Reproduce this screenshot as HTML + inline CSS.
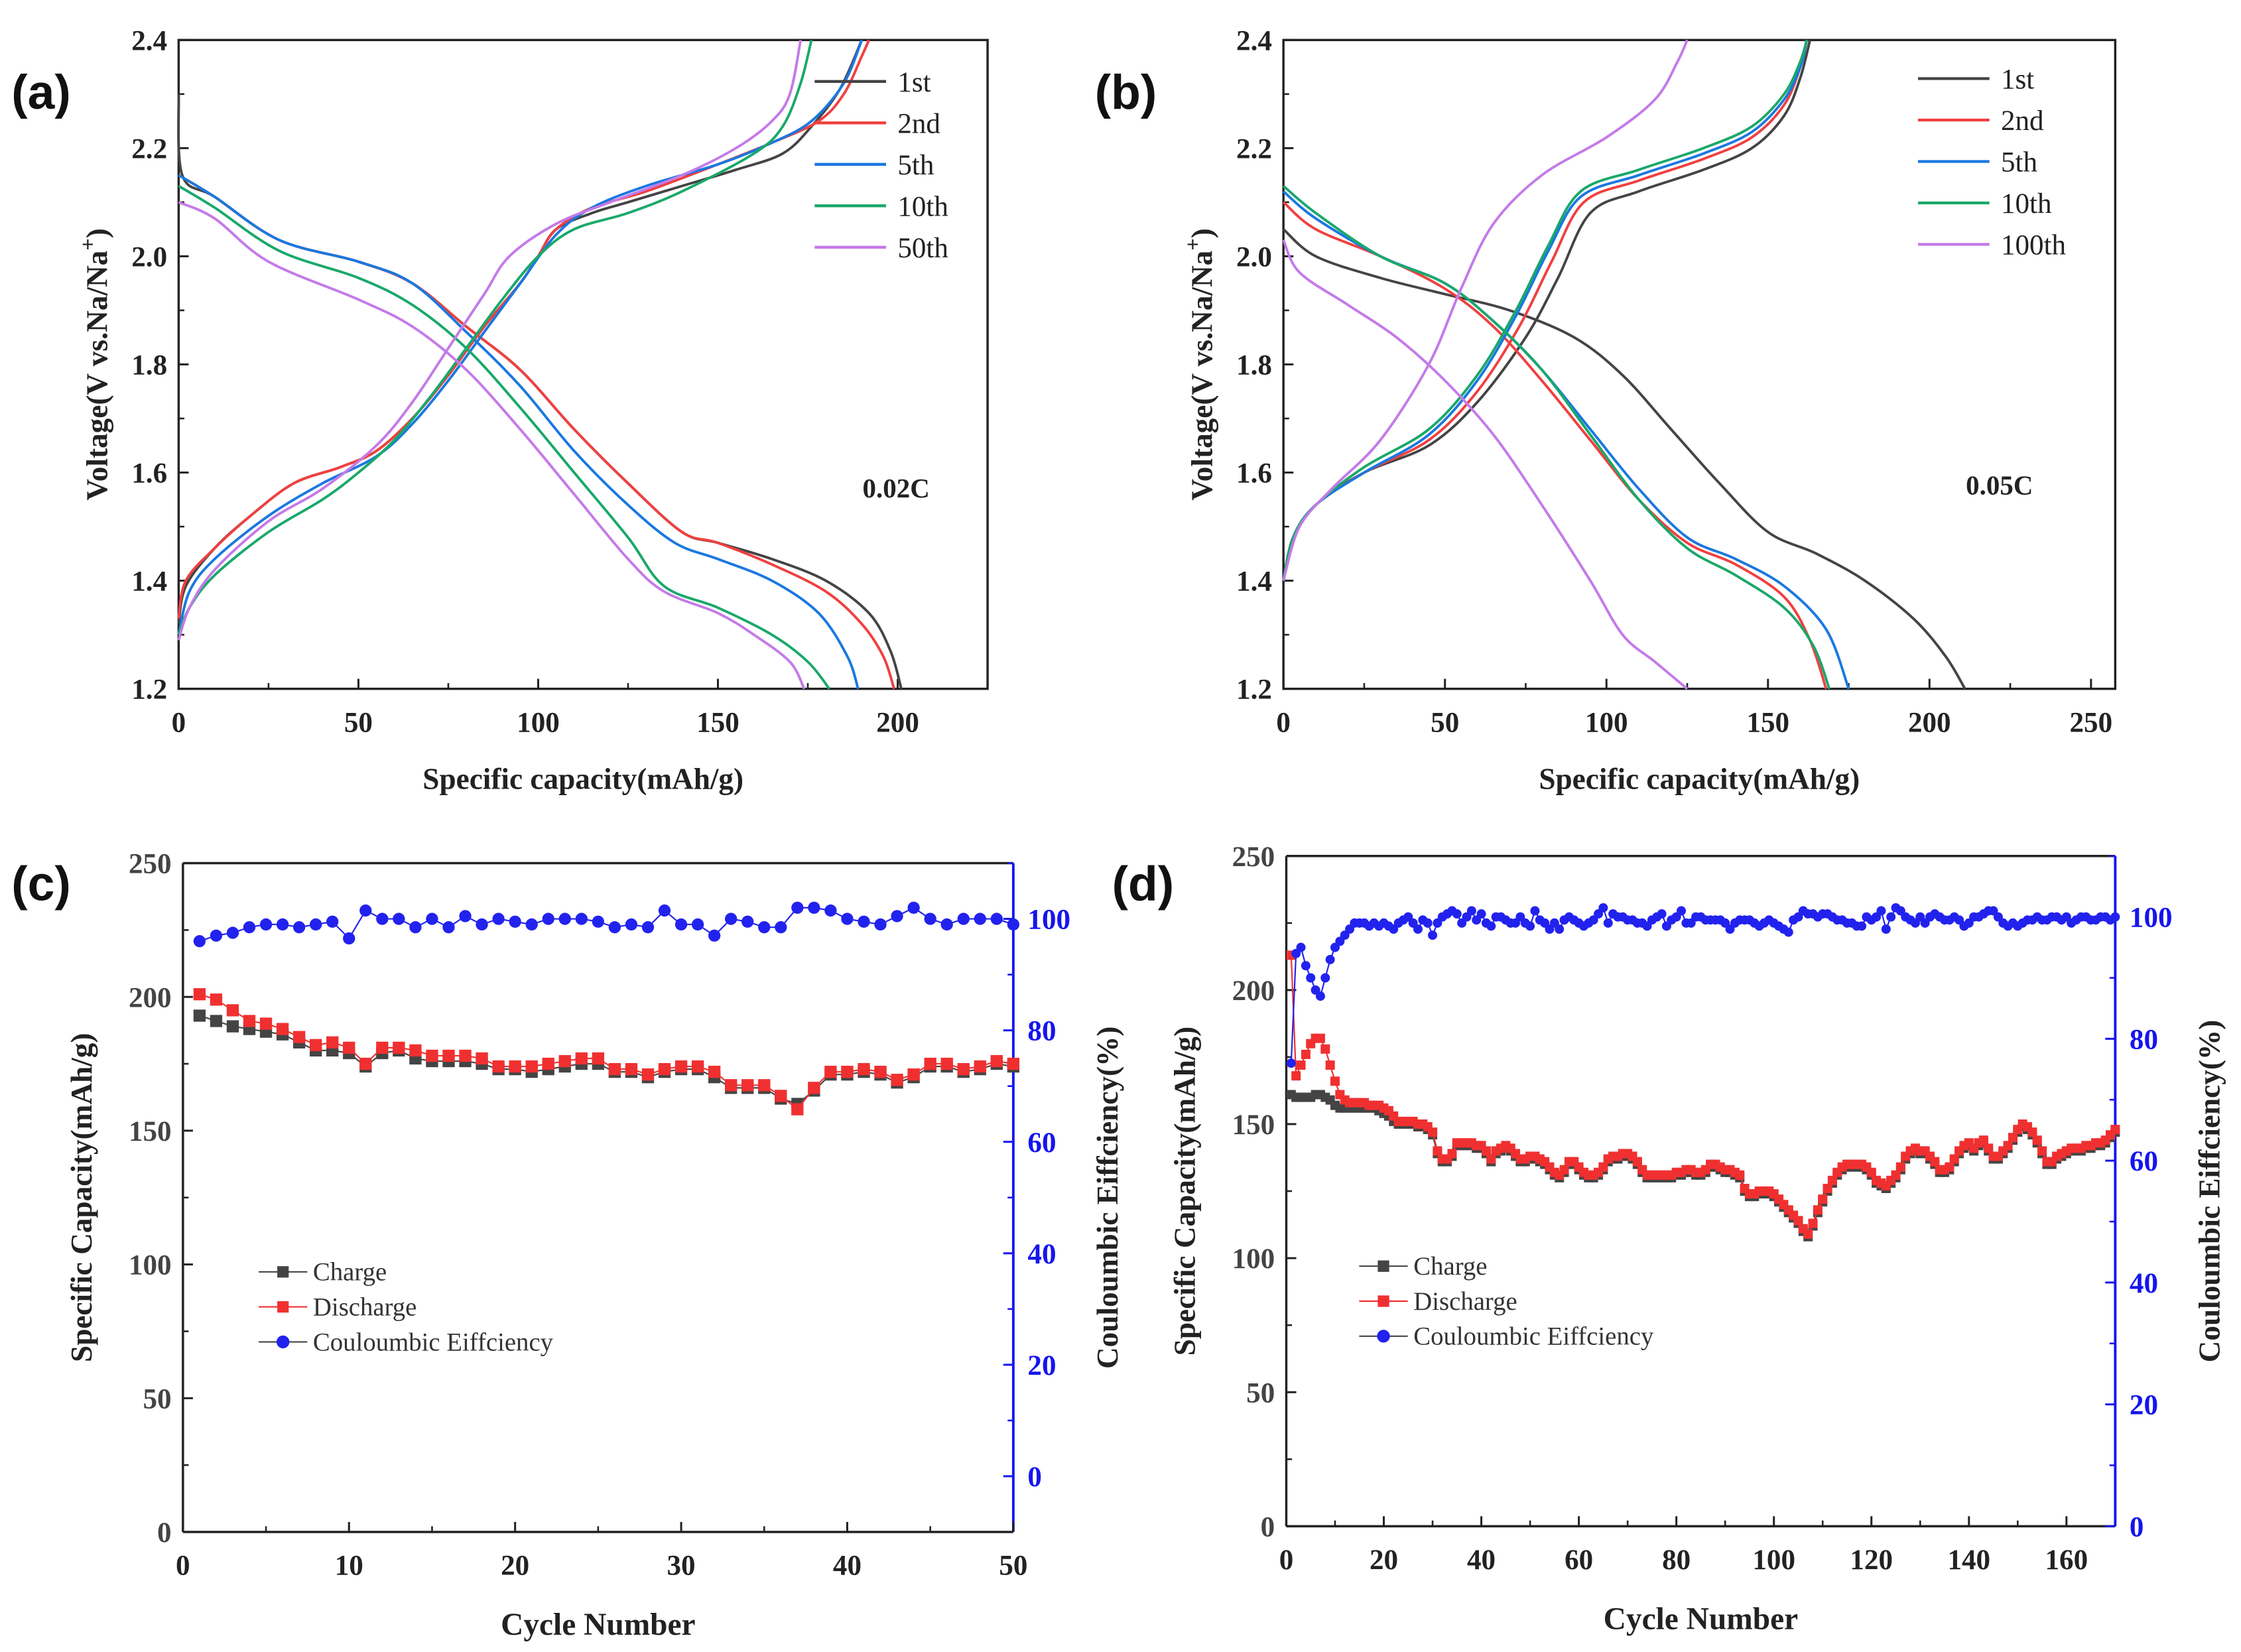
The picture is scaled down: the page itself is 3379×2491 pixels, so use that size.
<!DOCTYPE html>
<html><head><meta charset="utf-8"><style>
html,body{margin:0;padding:0;background:#fff;}
svg{display:block;}
</style></head><body>
<svg id="fig" width="3379" height="2491" viewBox="0 0 1568 1156" preserveAspectRatio="none" xmlns="http://www.w3.org/2000/svg" style="font-family:'Liberation Serif',serif;"></svg>
<script>
// ---------- data ----------
const aLegend = ["1st","2nd","5th","10th","50th"];
const bLegend = ["1st","2nd","5th","10th","100th"];
const curveColors = ["#444444","#f04040","#1a78e0","#1aa86a","#c47ae8"];
const aXTicks = [0,50,100,150,200];
const vTicks = [1.2,1.4,1.6,1.8,2.0,2.2,2.4];
const bXTicks = [0,50,100,150,200,250];
// panel a discharge
const aDis1 = [[0,2.3],[1,2.15],[10,2.11],[28,2.03],[50,1.99],[65,1.95],[80,1.87],[95,1.79],[110,1.68],[125,1.58],[140,1.49],[150,1.47],[165,1.44],[180,1.40],[192,1.34],[198,1.27],[201,1.2]];
const aDis2 = [[0,2.15],[10,2.11],[28,2.03],[50,1.99],[65,1.95],[80,1.87],[95,1.79],[110,1.68],[125,1.58],[140,1.49],[150,1.47],[165,1.43],[180,1.38],[190,1.32],[196,1.26],[199,1.2]];
const aDis5 = [[0,2.15],[10,2.11],[28,2.03],[50,1.99],[65,1.95],[80,1.86],[95,1.76],[110,1.64],[125,1.54],[138,1.47],[150,1.44],[165,1.40],[178,1.34],[186,1.26],[189,1.2]];
const aDis10 = [[0,2.13],[10,2.09],[28,2.01],[50,1.96],[65,1.91],[80,1.83],[95,1.72],[110,1.60],[125,1.48],[135,1.39],[150,1.35],[165,1.30],[175,1.25],[181,1.2]];
const aDis50 = [[0,2.10],[10,2.07],[25,1.99],[50,1.92],[65,1.87],[80,1.79],[95,1.68],[110,1.56],[125,1.44],[135,1.38],[150,1.34],[160,1.30],[170,1.25],[174,1.2]];
// panel a charge
const aCha1 = [[0,1.32],[2,1.39],[10,1.46],[20,1.52],[32,1.58],[45,1.61],[55,1.64],[65,1.70],[75,1.78],[85,1.87],[95,1.95],[100,2.0],[105,2.05],[115,2.08],[125,2.10],[140,2.13],[155,2.16],[168,2.19],[176,2.24],[184,2.31],[190,2.4]];
const aCha2 = [[0,1.33],[2,1.40],[10,1.46],[20,1.52],[32,1.58],[45,1.61],[55,1.64],[65,1.70],[75,1.78],[85,1.87],[95,1.95],[100,2.0],[105,2.05],[115,2.09],[130,2.12],[150,2.17],[165,2.21],[178,2.25],[185,2.3],[190,2.37],[192,2.4]];
const aCha5 = [[0,1.30],[3,1.38],[10,1.44],[25,1.52],[40,1.58],[55,1.63],[65,1.69],[75,1.77],[85,1.86],[95,1.95],[105,2.04],[115,2.09],[130,2.13],[150,2.17],[165,2.21],[176,2.25],[185,2.32],[190,2.4]];
const aCha10 = [[0,1.30],[3,1.35],[10,1.41],[25,1.49],[40,1.55],[50,1.60],[60,1.66],[70,1.74],[80,1.83],[90,1.92],[100,2.0],[110,2.05],[125,2.08],[140,2.12],[160,2.19],[168,2.24],[173,2.32],[176,2.4]];
const aCha50 = [[0,1.29],[3,1.35],[10,1.42],[25,1.51],[40,1.57],[55,1.65],[65,1.73],[75,1.83],[85,1.93],[92,2.0],[105,2.06],[120,2.1],[140,2.15],[155,2.2],[165,2.25],[170,2.3],[173,2.4]];
// panel b discharge
const bDis1 = [[0,2.05],[10,2.0],[30,1.96],[50,1.93],[70,1.9],[90,1.85],[105,1.78],[120,1.68],[135,1.58],[150,1.49],[165,1.45],[180,1.40],[195,1.33],[205,1.26],[211,1.2]];
const bDis2 = [[0,2.1],[10,2.05],[30,2.0],[50,1.94],[65,1.87],[80,1.77],[95,1.66],[110,1.55],[125,1.47],[140,1.43],[155,1.37],[163,1.29],[168,1.2]];
const bDis5 = [[0,2.12],[10,2.07],[30,2.0],[50,1.95],[65,1.88],[80,1.79],[95,1.68],[110,1.57],[125,1.48],[140,1.44],[155,1.39],[168,1.31],[175,1.2]];
const bDis10 = [[0,2.13],[10,2.08],[30,2.0],[50,1.95],[65,1.88],[80,1.79],[95,1.67],[110,1.55],[125,1.46],[140,1.41],[155,1.35],[164,1.28],[169,1.2]];
const bDis100 = [[0,2.03],[5,1.97],[20,1.91],[35,1.85],[50,1.77],[65,1.67],[80,1.54],[95,1.40],[105,1.3],[115,1.25],[125,1.2]];
// panel b charge
const bCha1 = [[0,1.40],[3,1.48],[10,1.54],[25,1.60],[45,1.65],[60,1.73],[75,1.85],[85,1.96],[95,2.08],[110,2.12],[130,2.16],[145,2.2],[155,2.26],[160,2.33],[163,2.4]];
const bCha2 = [[0,1.40],[3,1.48],[10,1.54],[25,1.60],[45,1.66],[60,1.75],[73,1.87],[83,1.99],[93,2.10],[110,2.14],[130,2.18],[145,2.22],[155,2.28],[160,2.35],[162,2.4]];
const bCha5 = [[0,1.40],[3,1.48],[10,1.54],[25,1.60],[45,1.67],[60,1.77],[72,1.89],[82,2.01],[92,2.11],[110,2.15],[130,2.19],[145,2.23],[155,2.29],[160,2.35],[162,2.4]];
const bCha10 = [[0,1.40],[3,1.48],[10,1.54],[25,1.61],[45,1.68],[60,1.78],[72,1.90],[82,2.02],[92,2.12],[110,2.16],[130,2.2],[145,2.24],[155,2.3],[160,2.36],[162,2.4]];
const bCha100 = [[0,1.40],[5,1.50],[15,1.57],[30,1.66],[45,1.80],[55,1.94],[65,2.06],[80,2.15],[100,2.22],[115,2.29],[122,2.36],[125,2.4]];
// panel c
const cCharge = [193,191,189,188,187,186,183,180,180,179,174,179,180,177,176,176,176,175,173,173,172,173,174,175,175,172,172,170,172,173,173,170,166,166,166,162,160,165,171,171,172,171,168,170,174,174,172,173,175,174];
const cDischarge = [201,199,195,191,190,188,185,182,183,181,175,181,181,180,178,178,178,177,174,174,174,175,176,177,177,173,173,171,173,174,174,172,167,167,167,163,158,166,172,172,173,172,169,171,175,175,173,174,176,175];
const cCE = [96,97,97.5,98.5,99,99,98.5,99,99.5,96.5,101.5,100,100,98.5,100,98.5,100.5,99,100,99.5,99,100,100,100,99.5,98.5,99,98.5,101.5,99,99,97,100,99.5,98.5,98.5,102,102,101.5,100,99.5,99,100.5,102,100,99,100,100,100,99];
const cXTicks = [0,10,20,30,40,50];
const capTicks = [0,50,100,150,200,250];
const cCETicks = [0,20,40,60,80,100];
// panel d
const dDischarge = [213,168,172,176,180,182,182,178,172,166,
161,159,158,158,158,158,157,157,157,156,
155,153,151,151,151,151,150,150,149,147,
140,137,137,139,143,143,143,143,142,142,
140,137,140,141,142,141,139,137,137,138,
138,137,136,134,132,131,133,136,136,134,
132,131,131,132,134,137,138,138,139,139,
138,136,133,131,131,131,131,131,131,132,
132,133,133,132,132,133,135,135,134,133,
133,132,131,126,124,124,125,125,125,124,
122,120,118,116,114,111,109,113,118,122,
126,129,132,134,135,135,135,135,134,132,
129,128,127,129,131,134,138,140,141,140,
140,138,136,133,133,134,137,140,142,143,
141,143,144,141,138,138,140,142,145,148,
150,149,147,144,140,136,136,138,139,140,
141,141,141,142,142,143,143,144,146,148];
const dCharge = [161,160,160,160,160,161,161,160,159,157,
156,156,156,156,156,156,156,156,155,154,
153,151,150,150,150,150,149,149,148,146,
139,136,136,138,142,142,142,142,141,141,
139,136,139,140,141,140,138,136,136,137,
137,136,135,133,131,130,132,135,135,133,
131,130,130,131,133,136,137,137,138,138,
137,135,132,130,130,130,130,130,130,131,
131,132,132,131,131,132,134,134,133,132,
132,131,130,125,123,123,124,124,124,123,
121,119,117,115,113,110,108,112,117,121,
125,128,131,133,134,134,134,134,133,131,
128,127,126,128,130,133,137,139,140,139,
139,137,135,132,132,133,136,139,141,142,
140,142,143,140,137,137,139,141,144,147,
149,148,146,143,139,135,135,137,138,139,
140,140,140,141,141,142,142,143,145,147];
const dCE = [76,94,95,92,90,88,87,90,93,95,
96,97,98,99,99,99,98.5,99,98.5,99,
98.5,98,99,99.5,100,99,98,99.5,99,97,
99,100,100.5,101,100.5,99,100,101,99.5,100.5,
99,98.5,100,100,99.5,99,99,100,99,98.5,
101,99.5,99,98,99,98,99.5,100,99.5,99,
98.5,99,99.5,100.5,101.5,99,100.5,100,100,99.5,
99.5,99,99,98.5,99.5,100,100.5,98.5,99.5,100,
101,99,99,100,100,99.5,99.5,99.5,99.5,99,
98,99,99.5,99.5,99.5,99,98.5,99,99.5,99,
98.5,98,97.5,99.5,100,101,100.5,100.5,100,100.5,
100.5,100,99.5,99.5,99,99,98.5,98.5,100,99.5,
100,101,98,100,101.5,101,100,99.5,99,100,
99,100,100.5,100,99.5,99.5,100,99.5,98.5,99,
100,100,100.5,101,101,100,99,98.5,99,98.5,
99,99.5,99.5,100,99.5,99.5,100,100,99.5,100,
99,99.5,100,100,99.5,99.5,100,100,99.5,100];
const dXTicks = [0,20,40,60,80,100,120,140,160];
const dCETicks = [0,20,40,60,80,100];

// ---------- helpers ----------
const NS = "http://www.w3.org/2000/svg";
const svg = document.getElementById("fig");
function mk(tag, attrs, parent){
  const e = document.createElementNS(NS, tag);
  for (const k in attrs) e.setAttribute(k, attrs[k]);
  (parent||svg).appendChild(e);
  return e;
}
function lin(d0,d1,r0,r1){ return v => r0 + (v-d0)/(d1-d0)*(r1-r0); }
function smoothPath(pts){
  let d = "M"+pts[0][0].toFixed(2)+","+pts[0][1].toFixed(2);
  for (let i=0;i<pts.length-1;i++){
    const p0=pts[Math.max(i-1,0)], p1=pts[i], p2=pts[i+1], p3=pts[Math.min(i+2,pts.length-1)];
    const c1x=p1[0]+(p2[0]-p0[0])/6, c1y=p1[1]+(p2[1]-p0[1])/6;
    const c2x=p2[0]-(p3[0]-p1[0])/6, c2y=p2[1]-(p3[1]-p1[1])/6;
    d += " C"+c1x.toFixed(2)+","+c1y.toFixed(2)+" "+c2x.toFixed(2)+","+c2y.toFixed(2)+" "+p2[0].toFixed(2)+","+p2[1].toFixed(2);
  }
  return d;
}
function txt(s, x, y, opts, parent){
  const t = mk("text", Object.assign({x:x, y:y, "font-size":20, "font-weight":"bold", "text-anchor":"middle", fill:"#222"}, opts||{}), parent);
  t.textContent = s;
  return t;
}
function panelLabelText(g, s, xy){
  const pl = mk("text",{x:xy[0],y:xy[1],"font-size":34,"font-weight":"bold",fill:"#111",style:"font-family:'Liberation Sans',sans-serif"},g);
  
  
  pl.textContent = s;
}

// ---------- voltage panels ----------
function voltagePanel(id, box, xmax, xTicks, curves, legend, legendBox, rateLabel, rateXY, panelLabel, labelXY){
  const g = mk("g", {});
  
  
  const X = lin(0, xmax, box.l, box.r), Y = lin(1.2, 2.4, box.b, box.t);
  const frame = mk("rect", {x:box.l, y:box.t, width:box.r-box.l, height:box.b-box.t, fill:"none", stroke:"#222", "stroke-width":1.6}, g);
  
  
  xTicks.forEach((v,i)=>{
    const x = X(v);
    const tk = mk("line",{x1:x,y1:box.b,x2:x,y2:box.b-7,stroke:"#222","stroke-width":1.4},g);
    
    
    if (i<xTicks.length-1){ const xm = X(v+25); if (xm<box.r){
      const mt = mk("line",{x1:xm,y1:box.b,x2:xm,y2:box.b-4,stroke:"#222","stroke-width":1.2},g);
      
      
    }}
    const lb = txt(String(v), x, box.b+30, {}, g);
    
    
  });
  vTicks.forEach((v,i)=>{
    const y = Y(v);
    const tk = mk("line",{x1:box.l,y1:y,x2:box.l+7,y2:y,stroke:"#222","stroke-width":1.4},g);
    
    
    if (i<vTicks.length-1){
      const mt = mk("line",{x1:box.l,y1:Y(v+0.1),x2:box.l+4,y2:Y(v+0.1),stroke:"#222","stroke-width":1.2},g);
      
      
    }
    const lb = txt(v.toFixed(1), box.l-8, y+7, {"text-anchor":"end"}, g);
    
    
  });
  curves.forEach((c,i)=>{
    c.forEach((ser,j)=>{
      const p = mk("path",{d:smoothPath(ser.map(q=>[X(q[0]),Y(q[1])])), fill:"none", stroke:curveColors[i], "stroke-width":1.8}, g);
      
      
    });
  });
  legend.forEach((s,i)=>{
    const y = legendBox.y + i*29;
    const ln = mk("line",{x1:legendBox.x,y1:y,x2:legendBox.x+50,y2:y,stroke:curveColors[i],"stroke-width":2},g);
    
    
    const t = txt(s, legendBox.x+58, y+7, {"font-weight":"normal","text-anchor":"start","font-size":20}, g);
    
    
  });
  const r = txt(rateLabel, rateXY[0], rateXY[1], {"font-size":19}, g);
  
  
  const xt = txt("Specific capacity(mAh/g)", (box.l+box.r)/2, box.b+70, {"font-size":21}, g);
  
  
  const cy = (box.t+box.b)/2;
  const yt = mk("text",{x:0,y:0,"font-size":21,"font-weight":"bold","text-anchor":"middle",fill:"#222",transform:"translate("+(box.l-50)+","+cy+") rotate(-90)"},g);
  
  
  yt.innerHTML = 'Voltage(V vs.Na/Na<tspan baseline-shift="super" font-size="15">+</tspan>)';
  panelLabelText(g, panelLabel, labelXY);
}

voltagePanel("a", {l:125,r:691,t:28,b:482}, 225, aXTicks,
  [[aDis1,aCha1],[aDis2,aCha2],[aDis5,aCha5],[aDis10,aCha10],[aDis50,aCha50]],
  aLegend, {x:570,y:57}, "0.02C", [627,348], "(a)", [8,76]);
voltagePanel("b", {l:898,r:1480,t:28,b:482}, 257.5, bXTicks,
  [[bDis1,bCha1],[bDis2,bCha2],[bDis5,bCha5],[bDis10,bCha10],[bDis100,bCha100]],
  bLegend, {x:1342,y:55}, "0.05C", [1399,346], "(b)", [766,76]);

// ---------- cycling panels ----------
function cyclePanel(id, box, xmax, xTicks, xMinor, ceMin, ceTicks, charge, discharge, ce, ms, legendXY, panelLabel, labelXY){
  const g = mk("g", {});
  
  
  const X = lin(0, xmax, box.l, box.r), Y = lin(0, 250, box.b, box.t), YC = lin(ceMin, 110, box.b, box.t);
  const top = mk("line",{x1:box.l,y1:box.t,x2:box.r,y2:box.t,stroke:"#222","stroke-width":1.6},g);
  
  
  const bot = mk("line",{x1:box.l,y1:box.b,x2:box.r,y2:box.b,stroke:"#222","stroke-width":1.6},g);
  
  
  const lft = mk("line",{x1:box.l,y1:box.t,x2:box.l,y2:box.b,stroke:"#222","stroke-width":1.6},g);
  
  
  const rgt = mk("line",{x1:box.r,y1:box.t,x2:box.r,y2:box.b,stroke:"#1515ee","stroke-width":1.8},g);
  
  
  xTicks.forEach((v,i)=>{
    const x = X(v);
    const tk = mk("line",{x1:x,y1:box.b,x2:x,y2:box.b-7,stroke:"#222","stroke-width":1.4},g);
    
    
    const xm = X(v+xMinor);
    if (xm<box.r-1){
      const mt = mk("line",{x1:xm,y1:box.b,x2:xm,y2:box.b-4,stroke:"#222","stroke-width":1.2},g);
      
      
    }
    const lb = txt(String(v), x, box.b+30, {}, g);
    
    
  });
  capTicks.forEach((v,i)=>{
    const y = Y(v);
    const tk = mk("line",{x1:box.l,y1:y,x2:box.l+7,y2:y,stroke:"#222","stroke-width":1.4},g);
    
    
    if (i<capTicks.length-1){
      const mt = mk("line",{x1:box.l,y1:Y(v+25),x2:box.l+4,y2:Y(v+25),stroke:"#222","stroke-width":1.2},g);
      
      
    }
    const lb = txt(String(v), box.l-8, y+7, {"text-anchor":"end","fill":"#444"}, g);
    
    
  });
  ceTicks.forEach((v,i)=>{
    const y = YC(v);
    const tk = mk("line",{x1:box.r,y1:y,x2:box.r-7,y2:y,stroke:"#1515ee","stroke-width":1.4},g);
    
    
    const mt = mk("line",{x1:box.r,y1:YC(v+10),x2:box.r-4,y2:YC(v+10),stroke:"#1515ee","stroke-width":1.2},g);
    
    
    const lb = txt(String(v), box.r+10, y+7, {"text-anchor":"start","fill":"#1515ee"}, g);
    
    
  });
  function series(vals, yf, color, shape, name){
    const pts = vals.map((v,i)=>[X(i+1), yf(v)]);
    const pl = mk("polyline",{points:pts.map(p=>p[0].toFixed(2)+","+p[1].toFixed(2)).join(" "), fill:"none", stroke:color, "stroke-width":1}, g);
    
    
    pts.forEach(p=>{
      let m;
      if (shape==="sq") m = mk("rect",{x:p[0]-ms/2,y:p[1]-ms/2,width:ms,height:ms,fill:color},g);
      else m = mk("circle",{cx:p[0],cy:p[1],r:ms/2,fill:color},g);
      
      
    });
  }
  series(charge, Y, "#444444", "sq", "charge");
  series(discharge, Y, "#f03030", "sq", "discharge");
  series(ce, YC, "#2222ee", "ci", "coulombic-efficiency");
  const ln = [["Charge","#444444","sq"],["Discharge","#f03030","sq"],["Couloumbic Eiffciency","#2222ee","ci"]];
  ln.forEach((e,i)=>{
    const y = legendXY[1] + i*24.5;
    const x = legendXY[0];
    const l = mk("line",{x1:x,y1:y,x2:x+34,y2:y,stroke:e[1]==="#2222ee"?"#444":e[1],"stroke-width":1},g);
    
    
    let m;
    if (e[2]==="sq") m = mk("rect",{x:x+13,y:y-4,width:8,height:8,fill:e[1]},g);
    else m = mk("circle",{cx:x+17,cy:y,r:4.5,fill:e[1]},g);
    
    
    const t = txt(e[0], x+38, y+6, {"font-weight":"normal","text-anchor":"start","font-size":18,"fill":"#333"}, g);
    
    
  });
  const xt = txt("Cycle Number", (box.l+box.r)/2, box.b+72, {"font-size":22}, g);
  
  
  const cy = (box.t+box.b)/2;
  const yt = txt("Specific Capacity(mAh/g)", 0, 0, {"font-size":21, transform:"translate("+(box.l-64)+","+cy+") rotate(-90)"}, g);
  
  
  const yr = txt("Couloumbic Eiffciency(%)", 0, 0, {"font-size":21, transform:"translate("+(box.r+73)+","+cy+") rotate(-90)"}, g);
  
  
  panelLabelText(g, panelLabel, labelXY);
}

cyclePanel("c", {l:128,r:709,t:604,b:1072}, 50, cXTicks, 5, -10, cCETicks, cCharge, cDischarge, cCE, 8.5, [181,890], "(c)", [8,630]);
cyclePanel("d", {l:900,r:1480,t:599,b:1068}, 170, dXTicks, 10, 0, dCETicks, dCharge, dDischarge, dCE, 6.5, [951,886], "(d)", [778,630]);
</script>
</body></html>
